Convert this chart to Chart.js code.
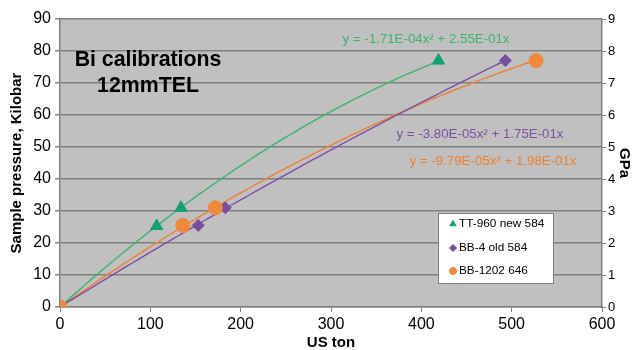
<!DOCTYPE html>
<html>
<head>
<meta charset="utf-8">
<script src="https://cdn.jsdelivr.net/npm/chart.js@4"></script>
<style>
  body{margin:0;background:#fff;}
  canvas{display:block;}
</style>
</head>
<body>
<canvas id="myChart" width="634" height="350"></canvas>
<script>
// press load (US ton) vs sample pressure (kbar)
const seriesNames=["TT-960 new 584","BB-4 old 584","BB-1202 646"];
const tonTT=[0,107,134,419];
const kbarTT=[0,25.3,31,77];
const tonBB4=[0,153,183,493];
const kbarBB4=[0,25.5,31,77];
const tonBB1202=[0,136,172,527];
const kbarBB1202=[0,25.5,31,77];
// quadratic fit coefficients [a, b] for y = a*x^2 + b*x
const fitTT=[-1.71E-04,2.55E-01];
const fitBB4=[-3.80E-05,1.75E-01];
const fitBB1202=[-9.79E-05,1.98E-01];
const fitLabels=["y = -1.71E-04x\u00b2 + 2.55E-01x","y = -3.80E-05x\u00b2 + 1.75E-01x","y = -9.79E-05x\u00b2 + 1.98E-01x"];

const lineColors=["#3cb46e","#7d4fa6","#ef8030"];
const markColors=["#14a070","#7a4e9e","#f0893c"];
const font="'Liberation Sans', Arial, sans-serif";

function pts(xs,ys){
  let out=[];
  for(let i=0;i<xs.length;i++) out.push({x:xs[i],y:ys[i]});
  return out;
}
function curve(c,xMax){
  let out=[];
  for(let x=0;x<=xMax;x+=5) out.push({x:x,y:c[0]*x*x+c[1]*x});
  out.push({x:xMax,y:c[0]*xMax*xMax+c[1]*xMax});
  return out;
}

const bgPlugin={
  id:'plotBg',
  beforeDraw(chart){
    const a=chart.chartArea, ctx=chart.ctx;
    ctx.save();
    ctx.fillStyle='#c0c0c0';
    ctx.fillRect(a.left,a.top,a.right-a.left,a.bottom-a.top);
    ctx.restore();
  }
};

const textPlugin={
  id:'texts',
  afterDraw(chart){
    const ctx=chart.ctx;
    ctx.save();
    // title inside plot
    ctx.fillStyle='#000';
    ctx.font='bold 21.3px '+font;
    ctx.textAlign='center';
    ctx.textBaseline='middle';
    ctx.fillText('Bi calibrations',148,60);
    ctx.fillText('12mmTEL',148,86);
    // fit equations
    ctx.font='13.3px '+font;
    const eqPos=[[426,39],[480,134],[493,161]];
    for(let i=0;i<3;i++){
      ctx.fillStyle=lineColors[i];
      ctx.fillText(fitLabels[i],eqPos[i][0],eqPos[i][1]);
    }
    // legend box
    ctx.fillStyle='#fff';
    ctx.fillRect(438,213,115,70);
    ctx.strokeStyle='#808080';
    ctx.lineWidth=1;
    ctx.strokeRect(438.5,213.5,115,70);
    ctx.font='11.8px '+font;
    ctx.textAlign='left';
    const rows=[224,248,271];
    const styles=['triangle','rectRot','circle'];
    for(let i=0;i<3;i++){
      ctx.fillStyle=markColors[i];
      ctx.strokeStyle=markColors[i];
      Chart.helpers.drawPoint(ctx,{pointStyle:styles[i],radius:3.5,borderWidth:1},453,rows[i]);
      ctx.fillStyle='#000';
      ctx.fillText(seriesNames[i],459,rows[i]);
    }
    ctx.restore();
  }
};

new Chart("myChart",{
  type:"scatter",
  data:{
    datasets:[
      {label:seriesNames[0],data:pts(tonTT,kbarTT),pointStyle:'triangle',pointRadius:7,backgroundColor:markColors[0],borderColor:markColors[0],order:2},
      {label:seriesNames[1],data:pts(tonBB4,kbarBB4),pointStyle:'rectRot',pointRadius:6,backgroundColor:markColors[1],borderColor:markColors[1],order:1},
      {label:seriesNames[2],data:pts(tonBB1202,kbarBB1202),pointStyle:'circle',pointRadius:7,backgroundColor:markColors[2],borderColor:markColors[2],order:0},
      {data:curve(fitTT,tonTT[tonTT.length-1]),showLine:true,pointRadius:0,borderColor:lineColors[0],borderWidth:1.4,order:3},
      {data:curve(fitBB4,tonBB4[tonBB4.length-1]),showLine:true,pointRadius:0,borderColor:lineColors[1],borderWidth:1.4,order:3},
      {data:curve(fitBB1202,tonBB1202[tonBB1202.length-1]),showLine:true,pointRadius:0,borderColor:lineColors[2],borderWidth:1.4,order:3}
    ]
  },
  options:{
    responsive:false,
    animation:false,
    layout:{padding:{top:19,left:0,right:0,bottom:0}},
    plugins:{legend:{display:false},tooltip:{enabled:false}},
    scales:{
      x:{
        type:'linear',min:0,max:600,
        ticks:{stepSize:100,color:'#000',font:{family:font,size:16},padding:3},
        grid:{drawOnChartArea:false,tickLength:5,color:'#808080'},
        border:{color:'#808080',width:1.5},
        title:{display:true,text:'US ton',color:'#000',font:{family:font,size:15,weight:'bold',lineHeight:1},padding:{top:0,bottom:0}},
        afterFit(s){s.height=43;}
      },
      y:{
        position:'left',min:0,max:90,
        ticks:{stepSize:10,color:'#000',font:{family:font,size:16},padding:4},
        grid:{color:'#808080',lineWidth:1.5,tickLength:5},
        border:{color:'#808080',width:1.5},
        title:{display:true,text:'Sample pressure, Kilobar',color:'#000',font:{family:font,size:15,weight:'bold',lineHeight:1},padding:{top:9,bottom:0}},
        afterFit(s){s.width=60;}
      },
      y2:{
        position:'right',min:0,max:9,
        ticks:{stepSize:1,color:'#000',font:{family:font,size:13},padding:2},
        grid:{drawOnChartArea:false,color:'#808080',tickLength:4},
        border:{color:'#808080',width:1.5},
        title:{display:true,text:'GPa',color:'#000',font:{family:font,size:15,weight:'bold',lineHeight:1},padding:{top:2,bottom:0}},
        afterFit(s){s.width=32;}
      }
    }
  },
  plugins:[bgPlugin,textPlugin]
});
</script>
</body>
</html>
